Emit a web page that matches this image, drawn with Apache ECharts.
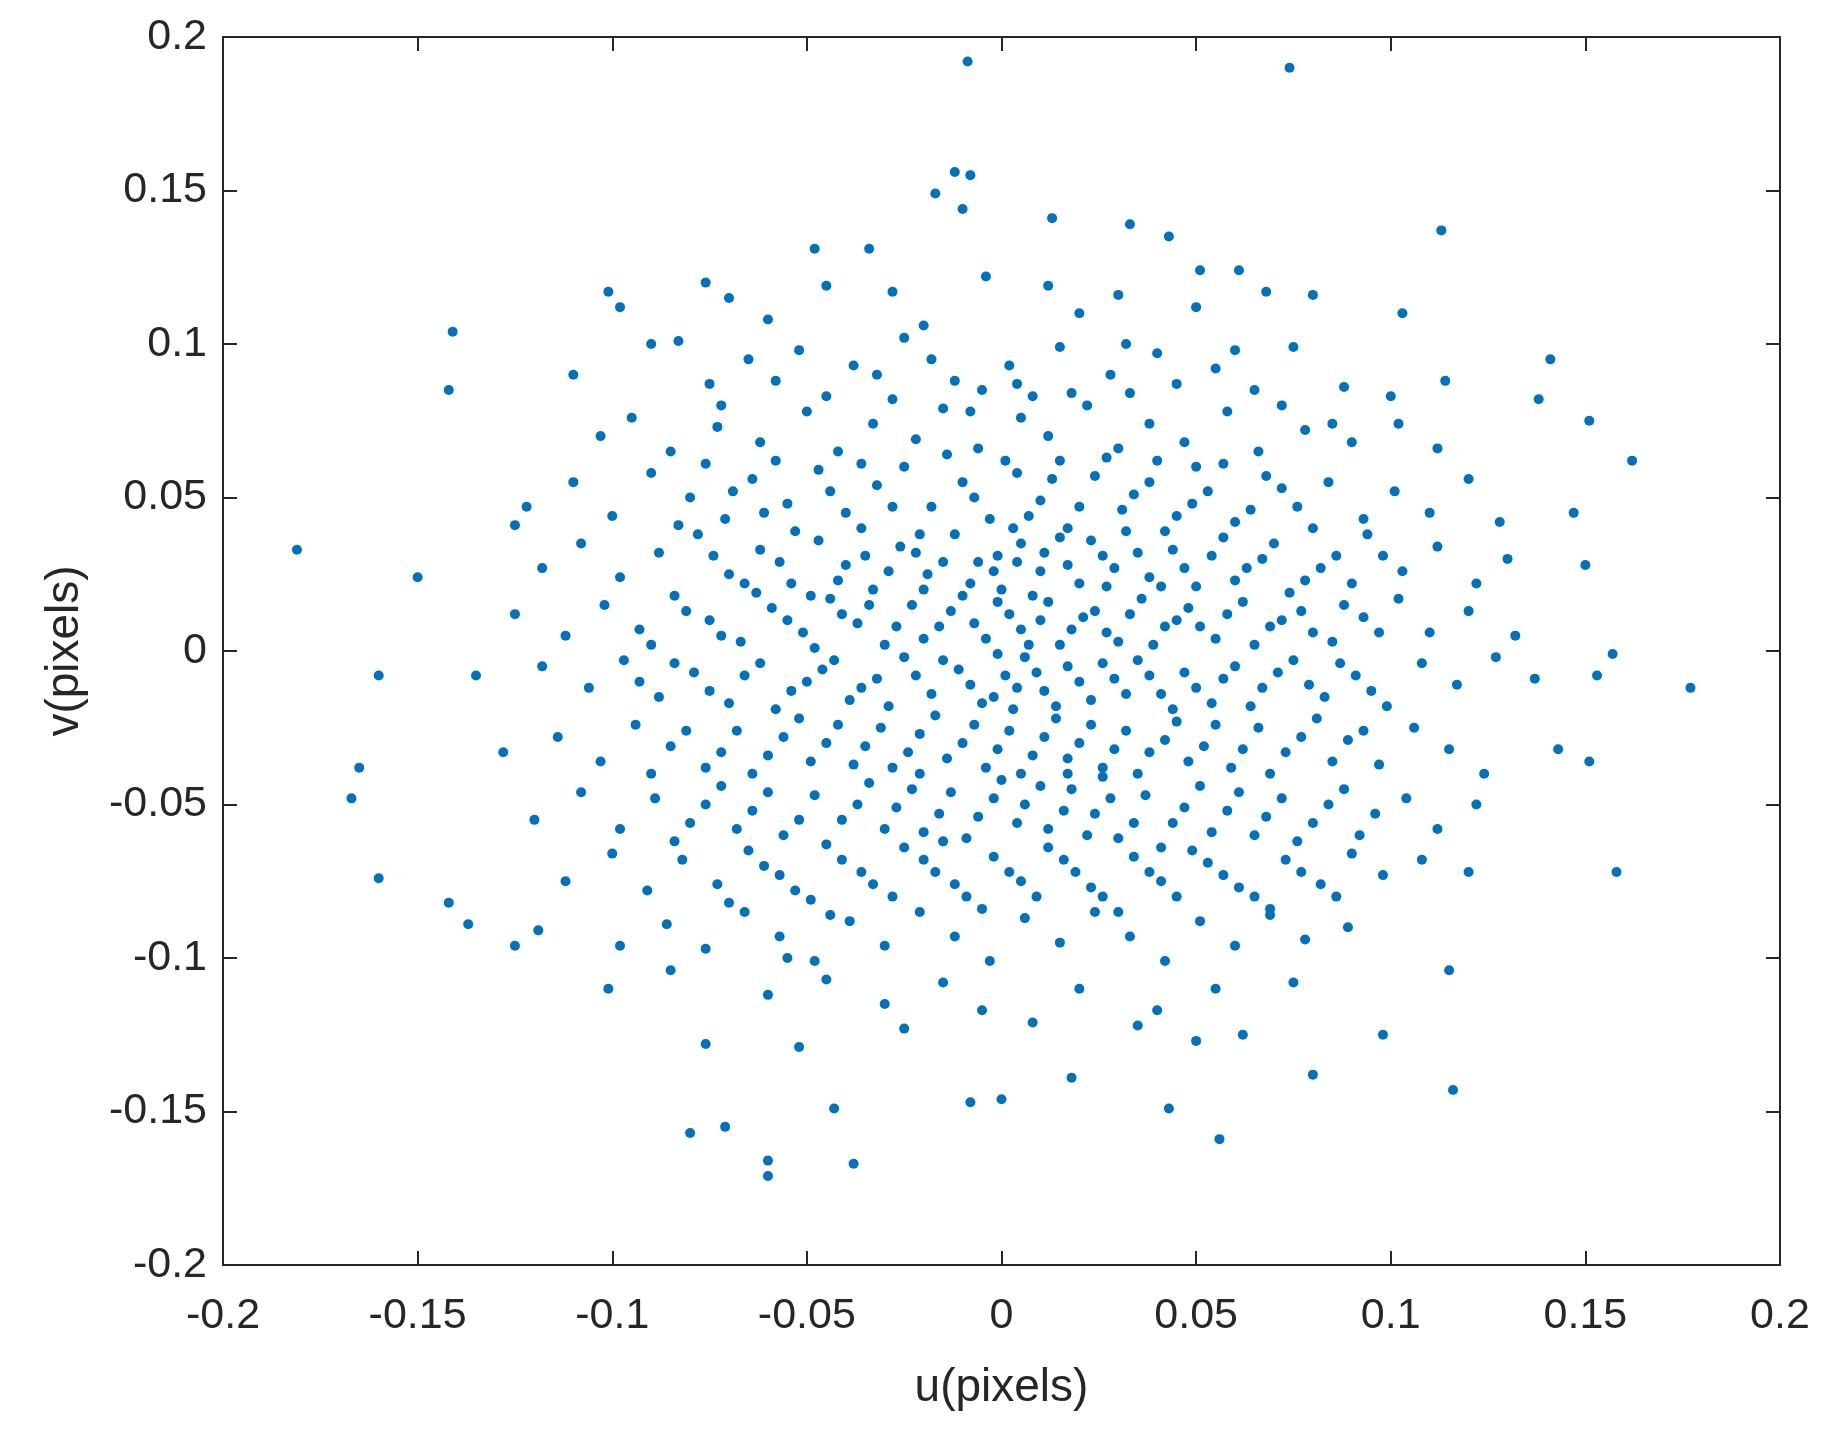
<!DOCTYPE html>
<html><head><meta charset="utf-8">
<script src="https://cdn.jsdelivr.net/npm/echarts@6/dist/echarts.min.js"></script>
<style>html,body{margin:0;padding:0;background:#fff}#c{width:1833px;height:1440px}</style>
</head><body><div id="c"></div>
<script>
const xTicks = [-0.2,-0.15,-0.1,-0.05,0,0.05,0.1,0.15,0.2];
const yTicks = [-0.2,-0.15,-0.1,-0.05,0,0.05,0.1,0.15,0.2];
const outliers = [[-0.0087,0.192],[0.074,0.190],[-0.181,0.033],[0.177,-0.012],[0.162,0.062],[-0.141,0.104],[-0.142,0.085],[-0.125,0.041],[-0.150,0.024],[-0.160,-0.008],[-0.167,-0.048],[-0.165,-0.038],[-0.160,-0.074],[-0.142,-0.082],[-0.137,-0.089],[-0.125,-0.096],[-0.119,-0.091],[0.113,0.137],[0.141,0.095],[0.138,0.082],[0.151,0.075],[0.147,0.045],[0.150,0.028],[0.157,-0.001],[0.153,-0.008],[0.151,-0.036],[0.158,-0.072],[0.143,-0.032],[0.116,-0.143],[0.115,-0.104],[0.098,-0.125],[0.080,-0.138],[0.056,-0.159],[0.043,-0.149],[-0.038,-0.167],[-0.060,-0.171],[-0.060,-0.166],[-0.071,-0.155],[-0.080,-0.157],[-0.076,-0.128],[-0.043,-0.149],[-0.008,-0.147],[0.000,-0.146],[-0.012,0.156],[-0.008,0.155],[-0.017,0.149],[-0.010,0.144],[0.013,0.141],[0.033,0.139],[0.043,0.135],[-0.048,0.131],[-0.034,0.131],[-0.076,0.120],[-0.101,0.117],[0.051,0.124],[0.061,0.124]];
const core = [[-0.098,0.112],[-0.083,0.101],[-0.060,0.108],[-0.045,0.119],[-0.028,0.117],[-0.020,0.106],[-0.004,0.122],[0.012,0.119],[0.030,0.116],[0.050,0.112],[0.068,0.117],[0.080,0.116],[0.103,0.110],[-0.070,0.115],[0.020,0.110],
[-0.110,0.090],[-0.090,0.100],[-0.075,0.087],[-0.065,0.095],[-0.052,0.098],[-0.038,0.093],[-0.025,0.102],[-0.012,0.088],[0.002,0.093],[0.015,0.099],[0.028,0.090],[0.040,0.097],[0.055,0.092],[0.065,0.085],[0.075,0.099],[0.088,0.086],[0.100,0.083],[0.114,0.088],[-0.005,0.085],[0.033,0.084],
[-0.103,0.070],[-0.095,0.076],[-0.085,0.065],[-0.073,0.073],[-0.062,0.068],[-0.050,0.078],[-0.042,0.065],[-0.033,0.074],[-0.022,0.069],[-0.015,0.079],[-0.006,0.066],[0.005,0.076],[0.012,0.070],[0.022,0.080],[0.030,0.066],[0.038,0.074],[0.047,0.068],[0.058,0.078],[0.066,0.065],[0.078,0.072],[0.090,0.068],[0.102,0.074],[0.112,0.066],[-0.028,0.082],[0.008,0.083],[0.050,0.060],
[-0.122,0.047],[-0.110,0.055],[-0.100,0.044],[-0.090,0.058],[-0.080,0.050],[-0.071,0.043],[-0.064,0.056],[-0.055,0.048],[-0.047,0.059],[-0.040,0.045],[-0.032,0.054],[-0.025,0.060],[-0.018,0.047],[-0.010,0.055],[-0.003,0.043],[0.004,0.058],[0.010,0.049],[0.017,0.040],[0.024,0.057],[0.031,0.046],[0.038,0.055],[0.045,0.044],[0.053,0.052],[0.060,0.042],[0.068,0.057],[0.076,0.047],[0.084,0.055],[0.093,0.043],[0.101,0.052],[0.110,0.045],[0.120,0.056],[0.128,0.042],[-0.058,0.062],[0.015,0.062],[-0.036,0.040],[0.040,0.062],
[-0.118,0.027],[-0.108,0.035],[-0.098,0.024],[-0.088,0.032],[-0.078,0.038],[-0.070,0.025],[-0.062,0.033],[-0.054,0.022],[-0.047,0.036],[-0.040,0.028],[-0.033,0.020],[-0.026,0.034],[-0.019,0.025],[-0.012,0.038],[-0.006,0.029],[0.000,0.020],[0.005,0.035],[0.010,0.026],[0.015,0.037],[0.020,0.022],[0.026,0.031],[0.032,0.039],[0.038,0.024],[0.044,0.033],[0.050,0.021],[0.057,0.037],[0.063,0.027],[0.070,0.035],[0.078,0.023],[0.086,0.031],[0.094,0.038],[0.103,0.026],[0.112,0.034],[0.122,0.022],[0.130,0.030],[0.003,0.040],[-0.001,0.031],[0.008,0.018],
[-0.125,0.012],[-0.112,0.005],[-0.102,0.015],[-0.093,0.007],[-0.084,0.018],[-0.075,0.010],[-0.067,0.003],[-0.059,0.014],[-0.051,0.006],[-0.044,0.017],[-0.037,0.009],[-0.030,0.002],[-0.023,0.015],[-0.016,0.008],[-0.010,0.018],[-0.004,0.004],[0.002,0.012],[0.007,0.002],[0.012,0.016],[0.018,0.007],[0.024,0.013],[0.030,0.003],[0.036,0.017],[0.042,0.008],[0.048,0.014],[0.055,0.004],[0.062,0.016],[0.069,0.008],[0.077,0.013],[0.085,0.003],[0.093,0.011],[0.102,0.017],[0.110,0.006],[0.120,0.013],[0.132,0.005],[-0.020,0.020],[0.027,0.021],
[-0.135,-0.008],[-0.118,-0.005],[-0.106,-0.012],[-0.097,-0.003],[-0.088,-0.015],[-0.079,-0.007],[-0.070,-0.017],[-0.062,-0.004],[-0.054,-0.013],[-0.046,-0.006],[-0.039,-0.016],[-0.032,-0.009],[-0.025,-0.002],[-0.018,-0.014],[-0.011,-0.006],[-0.005,-0.017],[0.001,-0.008],[0.006,-0.002],[0.011,-0.013],[0.017,-0.005],[0.023,-0.016],[0.029,-0.009],[0.035,-0.003],[0.041,-0.014],[0.047,-0.007],[0.054,-0.017],[0.060,-0.005],[0.067,-0.012],[0.075,-0.003],[0.083,-0.015],[0.091,-0.008],[0.099,-0.018],[0.108,-0.004],[0.117,-0.011],[0.127,-0.002],[0.137,-0.009],[-0.001,-0.001],[0.003,-0.019],
[-0.128,-0.033],[-0.114,-0.028],[-0.103,-0.036],[-0.094,-0.024],[-0.085,-0.031],[-0.076,-0.038],[-0.068,-0.026],[-0.060,-0.034],[-0.052,-0.022],[-0.045,-0.030],[-0.038,-0.037],[-0.031,-0.025],[-0.024,-0.033],[-0.017,-0.021],[-0.010,-0.030],[-0.004,-0.038],[0.002,-0.026],[0.008,-0.034],[0.014,-0.022],[0.020,-0.030],[0.026,-0.038],[0.032,-0.026],[0.038,-0.033],[0.045,-0.023],[0.052,-0.031],[0.059,-0.038],[0.066,-0.025],[0.073,-0.033],[0.081,-0.022],[0.089,-0.029],[0.097,-0.037],[0.106,-0.025],[0.115,-0.032],[0.124,-0.040],[-0.021,-0.040],[0.017,-0.040],
[-0.120,-0.055],[-0.108,-0.046],[-0.098,-0.058],[-0.089,-0.048],[-0.080,-0.056],[-0.072,-0.044],[-0.064,-0.052],[-0.056,-0.060],[-0.048,-0.047],[-0.041,-0.055],[-0.034,-0.043],[-0.027,-0.051],[-0.020,-0.059],[-0.013,-0.046],[-0.006,-0.054],[0.000,-0.042],[0.006,-0.050],[0.012,-0.058],[0.018,-0.045],[0.024,-0.053],[0.030,-0.061],[0.037,-0.047],[0.044,-0.056],[0.051,-0.044],[0.058,-0.052],[0.065,-0.060],[0.072,-0.048],[0.080,-0.056],[0.088,-0.045],[0.096,-0.053],[0.104,-0.048],[0.112,-0.058],[0.122,-0.050],[-0.015,-0.062],[0.026,-0.041],
[-0.112,-0.075],[-0.100,-0.066],[-0.091,-0.078],[-0.082,-0.068],[-0.073,-0.076],[-0.065,-0.065],[-0.057,-0.073],[-0.049,-0.081],[-0.041,-0.068],[-0.033,-0.076],[-0.025,-0.064],[-0.017,-0.072],[-0.009,-0.080],[-0.002,-0.067],[0.005,-0.075],[0.012,-0.064],[0.019,-0.072],[0.026,-0.080],[0.034,-0.067],[0.041,-0.075],[0.049,-0.065],[0.057,-0.073],[0.065,-0.080],[0.073,-0.068],[0.082,-0.076],[0.090,-0.066],[0.098,-0.073],[0.108,-0.068],[0.120,-0.072],
[-0.098,-0.096],[-0.086,-0.089],[-0.076,-0.097],[-0.066,-0.085],[-0.057,-0.093],[-0.048,-0.101],[-0.039,-0.088],[-0.030,-0.096],[-0.021,-0.085],[-0.012,-0.093],[-0.003,-0.101],[0.006,-0.087],[0.015,-0.095],[0.024,-0.085],[0.033,-0.093],[0.042,-0.101],[0.051,-0.088],[0.060,-0.096],[0.069,-0.086],[0.078,-0.094],[0.089,-0.090],[-0.101,-0.110],[-0.085,-0.104],
[-0.060,-0.112],[-0.045,-0.107],[-0.030,-0.115],[-0.015,-0.108],[-0.005,-0.117],[0.008,-0.121],[0.020,-0.110],[0.035,-0.122],[0.040,-0.117],[0.055,-0.110],[0.062,-0.125],[0.075,-0.108],[-0.025,-0.123],[0.050,-0.127],[-0.052,-0.129],[0.018,-0.139],[-0.055,-0.100]];
const dense = [[-0.076,0.061],[-0.069,0.052],[-0.061,0.045],[-0.053,0.039],[-0.044,0.052],[-0.036,0.061],[-0.028,0.047],[-0.021,0.038],[-0.014,0.064],[-0.007,0.050],[0.001,0.062],[0.007,0.044],[0.013,0.056],[0.020,0.047],[0.027,0.063],[0.034,0.051],[0.042,0.039],[0.049,0.048],[0.057,0.061],[0.064,0.046],[0.072,0.053],[0.080,0.040],
[-0.083,0.041],[-0.074,0.031],[-0.066,0.022],[-0.057,0.029],[-0.049,0.018],[-0.042,0.023],[-0.035,0.031],[-0.029,0.026],[-0.022,0.032],[-0.015,0.029],[-0.008,0.022],[-0.002,0.026],[0.004,0.029],[0.011,0.032],[0.017,0.028],[0.023,0.036],[0.029,0.027],[0.035,0.032],[0.041,0.021],[0.047,0.027],[0.054,0.031],[0.060,0.023],[0.067,0.030],[0.074,0.019],[0.082,0.027],[0.090,0.022],[0.098,0.031],
[-0.090,0.002],[-0.081,0.013],[-0.072,0.005],[-0.063,0.019],[-0.055,0.010],[-0.048,0.001],[-0.041,0.012],[-0.034,0.015],[-0.027,0.008],[-0.020,0.004],[-0.013,0.013],[-0.007,0.009],[-0.001,0.016],[0.005,0.007],[0.010,0.010],[0.015,0.002],[0.021,0.011],[0.027,0.006],[0.033,0.012],[0.039,0.002],[0.045,0.010],[0.051,0.008],[0.058,0.012],[0.065,0.002],[0.072,0.010],[0.080,0.006],[0.088,0.015],[0.097,0.006],
[-0.093,-0.010],[-0.084,-0.004],[-0.075,-0.013],[-0.066,-0.008],[-0.058,-0.019],[-0.050,-0.010],[-0.043,-0.003],[-0.036,-0.012],[-0.029,-0.018],[-0.022,-0.008],[-0.015,-0.003],[-0.008,-0.011],[-0.002,-0.015],[0.004,-0.012],[0.009,-0.007],[0.014,-0.018],[0.020,-0.010],[0.026,-0.004],[0.032,-0.014],[0.038,-0.008],[0.044,-0.019],[0.050,-0.012],[0.057,-0.009],[0.064,-0.018],[0.071,-0.007],[0.079,-0.011],[0.087,-0.004],[0.095,-0.013],
[-0.090,-0.040],[-0.081,-0.026],[-0.072,-0.033],[-0.064,-0.040],[-0.056,-0.028],[-0.049,-0.036],[-0.042,-0.024],[-0.035,-0.031],[-0.028,-0.038],[-0.021,-0.027],[-0.014,-0.035],[-0.007,-0.024],[-0.001,-0.032],[0.005,-0.040],[0.011,-0.028],[0.017,-0.035],[0.023,-0.024],[0.029,-0.032],[0.035,-0.040],[0.042,-0.029],[0.048,-0.036],[0.055,-0.024],[0.062,-0.032],[0.069,-0.040],[0.077,-0.028],[0.085,-0.036],[0.093,-0.026],
[-0.084,-0.062],[-0.076,-0.050],[-0.068,-0.058],[-0.060,-0.046],[-0.052,-0.055],[-0.045,-0.063],[-0.037,-0.050],[-0.030,-0.058],[-0.023,-0.045],[-0.016,-0.053],[-0.009,-0.061],[-0.002,-0.048],[0.004,-0.056],[0.010,-0.044],[0.016,-0.052],[0.022,-0.060],[0.028,-0.048],[0.034,-0.056],[0.041,-0.064],[0.047,-0.051],[0.054,-0.059],[0.061,-0.046],[0.068,-0.054],[0.076,-0.062],[0.084,-0.050],[0.092,-0.060],
[-0.070,-0.082],[-0.061,-0.070],[-0.053,-0.078],[-0.044,-0.086],[-0.036,-0.072],[-0.028,-0.080],[-0.020,-0.068],[-0.012,-0.076],[-0.005,-0.084],[0.002,-0.072],[0.009,-0.080],[0.016,-0.068],[0.023,-0.077],[0.030,-0.085],[0.038,-0.072],[0.045,-0.080],[0.053,-0.069],[0.061,-0.077],[0.069,-0.084],[0.077,-0.072],[0.086,-0.080],
[-0.072,0.080],[-0.058,0.088],[-0.045,0.083],[-0.032,0.090],[-0.018,0.095],[-0.008,0.078],[0.004,0.087],[0.018,0.084],[0.032,0.100],[0.045,0.087],[0.060,0.098],[0.072,0.080],[0.085,0.074]];

const chart = echarts.init(document.getElementById('c'));
const F = 'Liberation Sans, Arial, sans-serif';
const fmt = v => (Math.abs(v) < 1e-9 ? '0' : String(+v.toFixed(2)));
function ax(pos, show, name, gap) {
  return {
    type:'value', position:pos, min:-0.2, max:0.2, interval:0.05,
    name: name || '', nameLocation:'middle', nameGap: gap || 0,
    nameTextStyle:{fontFamily:F, fontSize:46, color:'#262626'},
    axisLine:{show:true, onZero:false, lineStyle:{color:'#262626', width:2}},
    axisTick:{show:true, inside:true, length:14, lineStyle:{color:'#262626', width:2}},
    axisLabel:{show:show, fontFamily:F, fontSize:43, color:'#262626', margin:pos==='bottom'?30:16, formatter:fmt, showMinLabel:true, showMaxLabel:true},
    splitLine:{show:false}
  };
}
chart.setOption({
  animation:false,
  grid:{left:223, right:53, top:37, bottom:175},
  xAxis:[ax('bottom', true, 'u(pixels)', 100), ax('top', false)],
  yAxis:[ax('left', true, 'v(pixels)', 135), ax('right', false)],
  series:[{
    type:'scatter', symbolSize:10, itemStyle:{color:'#0072BD', opacity:1},
    data: outliers.concat(core, dense)
  }]
});
</script></body></html>
